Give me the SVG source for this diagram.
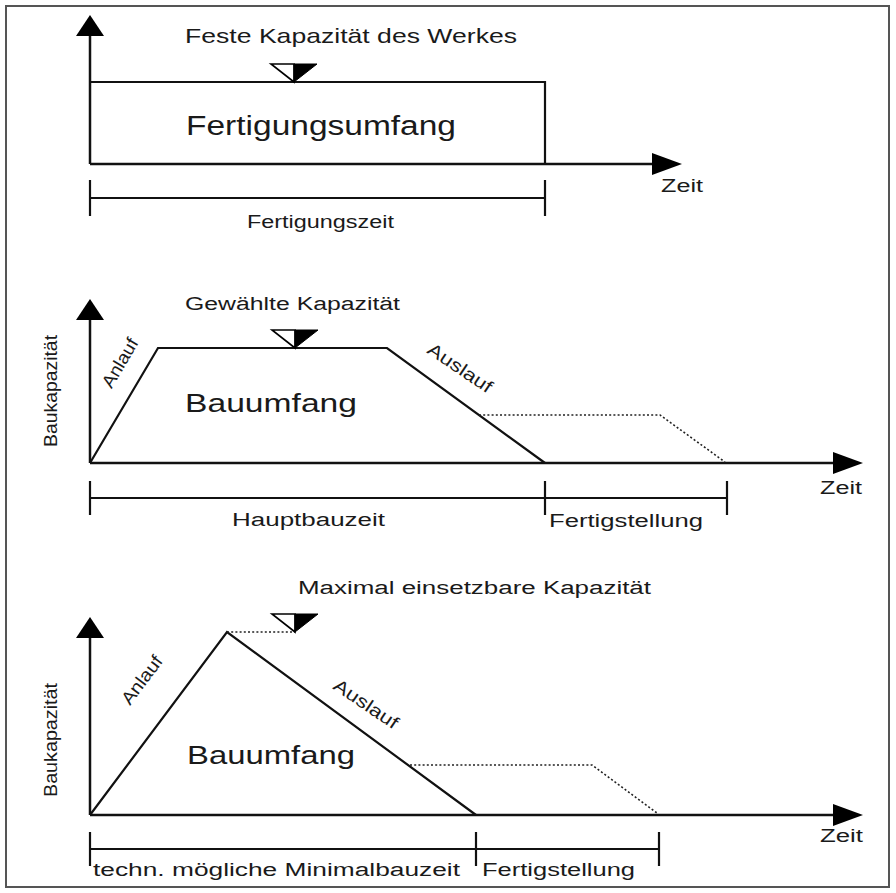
<svg xmlns="http://www.w3.org/2000/svg" width="896" height="893" viewBox="0 0 896 893">
<style>
  .ln { fill: none; stroke: #111; stroke-width: 2.2; stroke-linejoin: miter; }
  .ax { fill: none; stroke: #111; stroke-width: 2.5; }
  .dot { fill: none; stroke: #222; stroke-width: 1.6; stroke-dasharray: 2 2.2; }
  .tx { font-family: "Liberation Sans", Arial, sans-serif; fill: #1a1a1a; }
  .s18 { font-size: 18px; }
  .s21 { font-size: 21px; }
  .s25 { font-size: 25px; }
  .s26 { font-size: 27px; }
</style>
<defs>
  <marker id="arrY" markerUnits="userSpaceOnUse" viewBox="0 0 21 28" refX="0" refY="14" markerWidth="21" markerHeight="28" orient="auto">
    <path d="M0,0 L21,14 L0,28 Z" fill="#000"/>
  </marker>
  <marker id="arrX" markerUnits="userSpaceOnUse" viewBox="0 0 30 22" refX="0" refY="11" markerWidth="30" markerHeight="22" orient="auto">
    <path d="M0,0 L30,11 L0,22 Z" fill="#000"/>
  </marker>
  <g id="capMark">
    <path d="M-23,-18 L0,-18 L0,0 Z" fill="#fff" stroke="#000" stroke-width="1.6" stroke-linejoin="miter"/>
    <path d="M0,-18 L23,-18 L0,0 Z" fill="#000" stroke="#000" stroke-width="1"/>
  </g>
</defs>
<rect width="896" height="893" fill="#fff"/>
<rect id="frame" x="6" y="6" width="883" height="881" fill="none" stroke="#555" stroke-width="2"/>

<!-- Panel 1 -->
<g id="panel1">
  <g id="p1-connectors">
    <line class="ax" x1="90" y1="164" x2="90" y2="36" marker-end="url(#arrY)"/>
    <line class="ax" x1="90" y1="164" x2="652" y2="164" marker-end="url(#arrX)"/>
    <polyline class="ln" points="90,82 545,82 545,164"/>
    <line class="ln" x1="90" y1="198" x2="545" y2="198"/>
    <line class="ln" x1="90" y1="180" x2="90" y2="216"/>
    <line class="ln" x1="545" y1="180" x2="545" y2="216"/>
  </g>
  <use href="#capMark" x="294" y="82"/>
  <text class="tx s21" x="185" y="43" textLength="332" lengthAdjust="spacingAndGlyphs">Feste Kapazität des Werkes</text>
  <text class="tx s26" x="186" y="135" textLength="270" lengthAdjust="spacingAndGlyphs">Fertigungsumfang</text>
  <text class="tx s18" x="661" y="192" textLength="42" lengthAdjust="spacingAndGlyphs">Zeit</text>
  <text class="tx s18" x="247" y="228" textLength="147" lengthAdjust="spacingAndGlyphs">Fertigungszeit</text>
</g>

<!-- Panel 2 -->
<g id="panel2">
  <g id="p2-connectors">
    <line class="ax" x1="90" y1="463" x2="90" y2="320" marker-end="url(#arrY)"/>
    <line class="ax" x1="90" y1="463" x2="833" y2="463" marker-end="url(#arrX)"/>
    <polyline class="ln" points="90,463 158,348 387,348 545,463"/>
    <polyline class="dot" points="479,415 660,415 725,462"/>
    <line class="ln" x1="90" y1="498" x2="727" y2="498"/>
    <line class="ln" x1="90" y1="481" x2="90" y2="515"/>
    <line class="ln" x1="545" y1="481" x2="545" y2="515"/>
    <line class="ln" x1="727" y1="481" x2="727" y2="515"/>
  </g>
  <use href="#capMark" x="295" y="348"/>
  <text class="tx s18" x="185" y="310" textLength="215" lengthAdjust="spacingAndGlyphs">Gewählte Kapazität</text>
  <text class="tx s18" transform="translate(57,391) rotate(-90)" text-anchor="middle" textLength="112" lengthAdjust="spacingAndGlyphs">Baukapazität</text>
  <text class="tx s18" transform="translate(120,363) rotate(-59.4)" x="0" y="6" text-anchor="middle" textLength="54" lengthAdjust="spacingAndGlyphs">Anlauf</text>
  <text class="tx s18" transform="translate(460,368) rotate(34)" x="0" y="6" text-anchor="middle" textLength="74" lengthAdjust="spacingAndGlyphs">Auslauf</text>
  <text class="tx s25" x="185" y="412" textLength="172" lengthAdjust="spacingAndGlyphs">Bauumfang</text>
  <text class="tx s18" x="820" y="494" textLength="42" lengthAdjust="spacingAndGlyphs">Zeit</text>
  <text class="tx s18" x="232" y="526" textLength="153" lengthAdjust="spacingAndGlyphs">Hauptbauzeit</text>
  <text class="tx s18" x="549" y="527" textLength="154" lengthAdjust="spacingAndGlyphs">Fertigstellung</text>
</g>

<!-- Panel 3 -->
<g id="panel3">
  <g id="p3-connectors">
    <line class="ax" x1="90" y1="815" x2="90" y2="638" marker-end="url(#arrY)"/>
    <line class="ax" x1="90" y1="815" x2="833" y2="815" marker-end="url(#arrX)"/>
    <polyline class="ln" points="90,815 227,632 476,815"/>
    <line class="dot" x1="227" y1="632" x2="295" y2="632"/>
    <polyline class="dot" points="410,765 592,765 657,813"/>
    <line class="ln" x1="90" y1="849" x2="659" y2="849"/>
    <line class="ln" x1="90" y1="832" x2="90" y2="866"/>
    <line class="ln" x1="476" y1="832" x2="476" y2="866"/>
    <line class="ln" x1="659" y1="832" x2="659" y2="866"/>
  </g>
  <use href="#capMark" x="295" y="632"/>
  <text class="tx s18" x="298" y="594" textLength="353" lengthAdjust="spacingAndGlyphs">Maximal einsetzbare Kapazität</text>
  <text class="tx s18" transform="translate(57,740) rotate(-90)" text-anchor="middle" textLength="114" lengthAdjust="spacingAndGlyphs">Baukapazität</text>
  <text class="tx s18" transform="translate(142,680) rotate(-53)" x="0" y="6" text-anchor="middle" textLength="56" lengthAdjust="spacingAndGlyphs">Anlauf</text>
  <text class="tx s18" transform="translate(366,704) rotate(34)" x="0" y="6" text-anchor="middle" textLength="74" lengthAdjust="spacingAndGlyphs">Auslauf</text>
  <text class="tx s25" x="187" y="764" textLength="168" lengthAdjust="spacingAndGlyphs">Bauumfang</text>
  <text class="tx s18" x="820" y="842" textLength="43" lengthAdjust="spacingAndGlyphs">Zeit</text>
  <text class="tx s18" x="93" y="876" textLength="367" lengthAdjust="spacingAndGlyphs">techn. mögliche Minimalbauzeit</text>
  <text class="tx s18" x="482" y="876" textLength="153" lengthAdjust="spacingAndGlyphs">Fertigstellung</text>
</g>
</svg>
